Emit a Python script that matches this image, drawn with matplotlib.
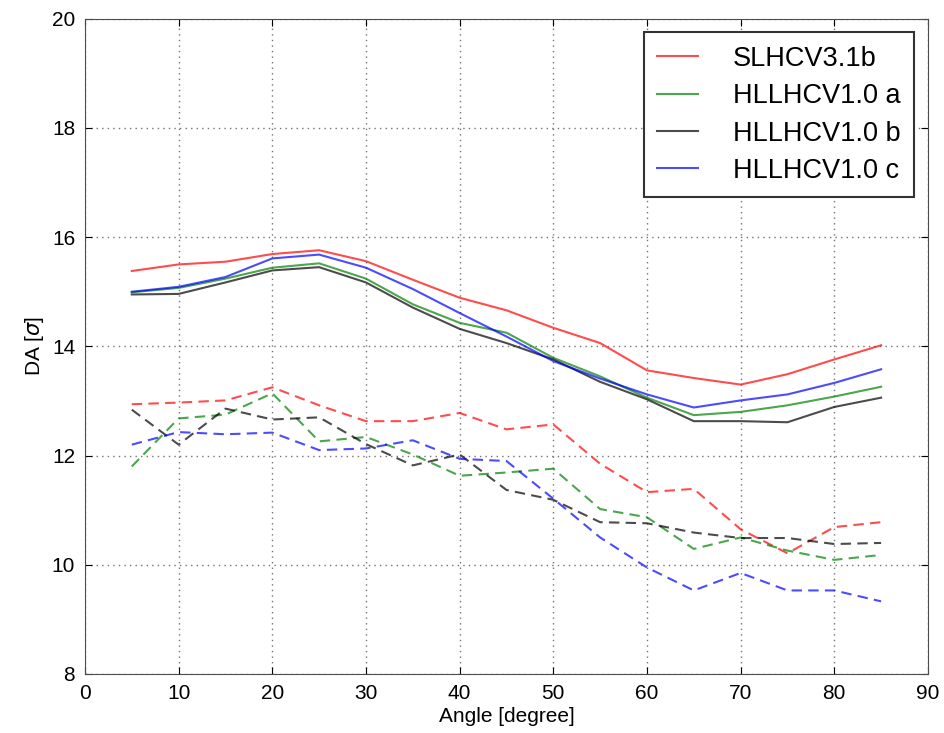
import matplotlib.pyplot as plt
import numpy as np

plt.rcParams["font.family"] = ["Liberation Sans", "DejaVu Sans"]

angle = [5, 10, 15, 20, 25, 30, 35, 40, 45, 50, 55, 60, 65, 70, 75, 80, 85]

# solid curves
slhc_solid = [15.38, 15.50, 15.55, 15.69, 15.76, 15.56, 15.22, 14.89, 14.66,
              14.34, 14.06, 13.56, 13.42, 13.30, 13.49, 13.76, 14.02]
hl_a_solid = [14.99, 15.07, 15.24, 15.44, 15.52, 15.24, 14.77, 14.43, 14.25,
              13.79, 13.45, 13.06, 12.74, 12.80, 12.92, 13.08, 13.26]
hl_b_solid = [14.95, 14.96, 15.17, 15.39, 15.45, 15.17, 14.71, 14.32, 14.06,
              13.76, 13.35, 13.03, 12.63, 12.63, 12.61, 12.89, 13.06]
hl_c_solid = [15.00, 15.09, 15.27, 15.61, 15.68, 15.44, 15.05, 14.61, 14.18,
              13.73, 13.41, 13.12, 12.88, 13.01, 13.12, 13.33, 13.58]

# dashed curves
slhc_dash = [12.94, 12.97, 13.01, 13.25, 12.92, 12.63, 12.63, 12.78, 12.48,
             12.57, 11.85, 11.33, 11.39, 10.65, 10.21, 10.69, 10.78]
hl_a_dash = [11.80, 12.68, 12.75, 13.14, 12.26, 12.34, 12.02, 11.63, 11.69,
             11.76, 11.02, 10.87, 10.29, 10.50, 10.26, 10.09, 10.18]
hl_b_dash = [12.84, 12.20, 12.86, 12.66, 12.70, 12.21, 11.82, 12.02, 11.37,
             11.19, 10.78, 10.76, 10.59, 10.49, 10.49, 10.38, 10.40]
hl_c_dash = [12.20, 12.43, 12.39, 12.42, 12.10, 12.13, 12.28, 11.94, 11.90,
             11.21, 10.50, 9.95, 9.53, 9.85, 9.53, 9.53, 9.33]

labels = ["SLHCV3.1b", "HLLHCV1.0 a", "HLLHCV1.0 b", "HLLHCV1.0 c"]
colors = ["r", "g", "k", "b"]

fig = plt.figure(figsize=(9.44, 7.33), dpi=100)
ax = fig.add_axes([0.090, 0.0805, 0.893, 0.894])

for ys, c, lab in zip([slhc_solid, hl_a_solid, hl_b_solid, hl_c_solid], colors, labels):
    ax.plot(angle, ys, "-", color=c, alpha=0.7, lw=1.5, label=lab)
for ys, c in zip([slhc_dash, hl_a_dash, hl_b_dash, hl_c_dash], colors):
    ax.plot(angle, ys, "--", color=c, alpha=0.7, lw=1.5, dashes=(5, 3))

ax.set_xlim(0, 90)
ax.set_ylim(8, 20)
ax.set_xticks(np.arange(0, 91, 10))
ax.set_yticks(np.arange(8, 21, 2))
ax.grid(True, linestyle=(0, (1, 3)), color="0.45", lw=1)
ax.tick_params(direction="in", top=True, right=True, labelsize=15, length=5, pad=7)
for s in ax.spines.values():
    s.set_color("0.3")
ax.set_xlabel("Angle [degree]", fontsize=15, labelpad=3)
ax.set_ylabel(r"DA [$\sigma$]", fontsize=15)

leg = ax.legend(loc="upper right", fontsize=19.5, fancybox=False, framealpha=1,
                handlelength=1.5, borderpad=0.5, labelspacing=0.42, handletextpad=1.3)
leg.get_frame().set_edgecolor("0.2")
leg.get_frame().set_linewidth(1.5)

fig.savefig("out.png", dpi=100)
